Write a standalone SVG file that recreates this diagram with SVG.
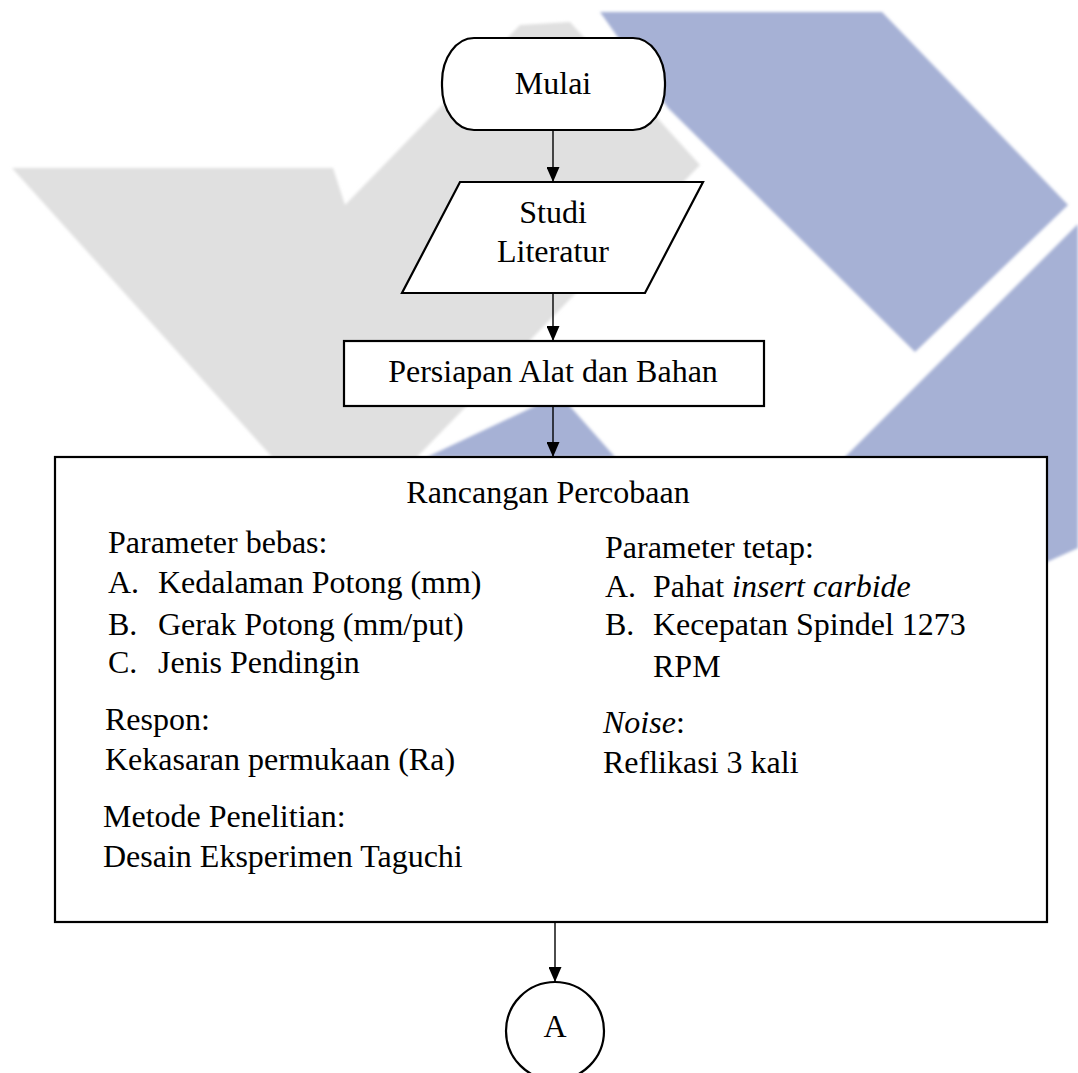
<svg xmlns="http://www.w3.org/2000/svg" width="1078" height="1073" viewBox="0 0 1078 1073">
  <defs>
    <marker id="arrow" viewBox="0 0 15 13" refX="15" refY="6.5" markerWidth="15" markerHeight="13" markerUnits="userSpaceOnUse" orient="auto">
      <path d="M0,0 L15,6.5 L0,13 z" fill="#000"/>
    </marker>
    <filter id="soft" x="-5%" y="-5%" width="110%" height="110%">
      <feGaussianBlur stdDeviation="1.5"/>
    </filter>
  </defs>
  <style>
    .shape { fill: #fff; stroke: #000; stroke-width: 2.2; }
    .conn { stroke: #000; stroke-width: 1.4; fill: none; marker-end: url(#arrow); }
    text { font-family: "Liberation Serif", "Times New Roman", "DejaVu Serif", serif; font-size: 32px; fill: #000; }
    .c { text-anchor: middle; }
    .wm-gray { fill: #e0e0e0; }
    .wm-blue { fill: #a6b1d5; }
  </style>
  <rect width="1078" height="1073" fill="#fff"/>
  <g id="watermark" filter="url(#soft)">
    <polygon class="wm-gray" points="12,168 333,168 345,205 520,25 570,22 700,165 417,457 272,457"/>
    <polygon class="wm-blue" points="600,12 882,12 1068,205 915,352 668,108"/>
    <polygon class="wm-blue" points="845,457 1078,224 1078,548 1047,562 845,562"/>
    <polygon class="wm-blue" points="427,457 548,400 560,395 615,457"/>
  </g>

  <g id="connectors">
    <line class="conn" x1="553" y1="130" x2="553" y2="182"/>
    <line class="conn" x1="553" y1="293" x2="553" y2="341"/>
    <line class="conn" x1="553" y1="406" x2="553" y2="457"/>
    <line class="conn" x1="555" y1="922" x2="555" y2="982"/>
  </g>

  <g id="node-mulai">
    <rect class="shape" x="442" y="38" width="223" height="92" rx="32" ry="44"/>
    <text class="c" x="553" y="94">Mulai</text>
  </g>

  <g id="node-studi">
    <polygon class="shape" points="460,182 703,182 645,293 402,293"/>
    <text class="c" x="553" y="223">Studi</text>
    <text class="c" x="553" y="262">Literatur</text>
  </g>

  <g id="node-persiapan">
    <rect class="shape" x="344" y="341" width="420" height="65"/>
    <text class="c" x="553" y="382">Persiapan Alat dan Bahan</text>
  </g>

  <g id="node-rancangan">
    <rect class="shape" x="55" y="457" width="992" height="465"/>
    <text class="c" x="548" y="503">Rancangan Percobaan</text>
    <text x="108" y="553">Parameter bebas:</text>
    <text x="108" y="593">A.</text><text x="158" y="593">Kedalaman Potong (mm)</text>
    <text x="108" y="635">B.</text><text x="158" y="635">Gerak Potong (mm/put)</text>
    <text x="108" y="673">C.</text><text x="158" y="673">Jenis Pendingin</text>
    <text x="105" y="730">Respon:</text>
    <text x="105" y="770">Kekasaran permukaan (Ra)</text>
    <text x="103" y="827">Metode Penelitian:</text>
    <text x="103" y="867">Desain Eksperimen Taguchi</text>
    <text x="605" y="558">Parameter tetap:</text>
    <text x="605" y="597">A.</text><text x="653" y="597">Pahat <tspan font-style="italic">insert carbide</tspan></text>
    <text x="605" y="635">B.</text><text x="653" y="635">Kecepatan Spindel 1273</text>
    <text x="653" y="677">RPM</text>
    <text x="603" y="733"><tspan font-style="italic">Noise</tspan>:</text>
    <text x="603" y="773">Reflikasi 3 kali</text>
  </g>

  <g id="node-a">
    <circle class="shape" cx="555" cy="1031" r="49"/>
    <text class="c" x="555" y="1037">A</text>
  </g>
</svg>
